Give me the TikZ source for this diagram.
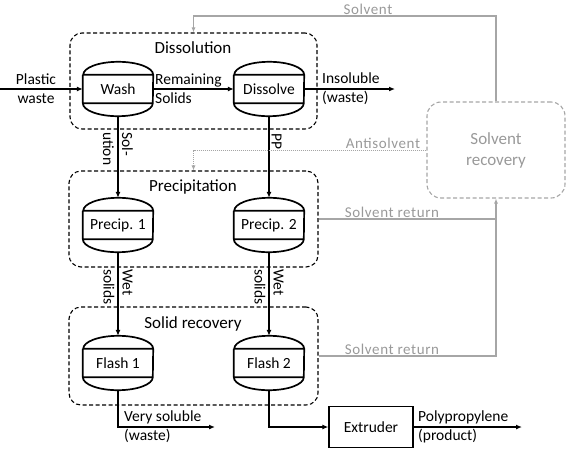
\documentclass[tikz,border=0pt]{standalone}
\usepackage{fontspec}
\setmainfont{Carlito}
\usetikzlibrary{arrows.meta}
\usepackage{xcolor}
\definecolor{recline}{HTML}{A6A6A6}
\definecolor{rectext}{HTML}{999999}

\begin{document}
\begin{tikzpicture}[
    x=1pt, y=1pt,
    stage/.style={
        draw=black,
        line width=1.1pt,
        dash pattern=on 4pt off 2.5pt,
        rounded corners=12pt,
        minimum width=249pt,
        minimum height=96pt,
    },
    heading/.style={font=\fontsize{17}{20}\selectfont},
    txt/.style={font=\fontsize{15.5}{19}\selectfont, align=left, inner sep=1pt},
    gtxt/.style={font=\fontsize{15}{19}\selectfont\addfontfeature{LetterSpace=4}, text=rectext, inner sep=1.5pt},
    vessel/.style={
        minimum width=70pt,
        minimum height=54pt,
        inner sep=0pt,
        font=\fontsize{15.5}{19}\selectfont,
        append after command={\pgfextra{
            \draw[line width=1.7pt]
                ([yshift=-13pt]\tikzlastnode.north west) -- ([yshift=13pt]\tikzlastnode.south west)
                arc[start angle=180, end angle=360, x radius=35pt, y radius=13pt]
                -- ([yshift=-13pt]\tikzlastnode.north east)
                arc[start angle=0, end angle=180, x radius=35pt, y radius=13pt]
                ([yshift=-13pt]\tikzlastnode.north west) -- ([yshift=-13pt]\tikzlastnode.north east)
                ([yshift=13pt]\tikzlastnode.south west) -- ([yshift=13pt]\tikzlastnode.south east);
        }},
    },
    recovery/.style={
        draw=recline,
        line width=1.1pt,
        dash pattern=on 4pt off 2.5pt,
        rounded corners=14pt,
        minimum width=138pt,
        minimum height=96pt,
        align=center,
        text=rectext,
        font=\fontsize{17}{21}\selectfont,
    },
    flow/.style={line width=1.3pt, -{Latex[length=6pt, width=5pt]}},
    ret/.style={draw=recline, line width=1.3pt, -{Latex[length=5pt, width=4pt]}},
]
\useasboundingbox (0,0) rectangle (567,-450);

% Stages
\node[stage, minimum width=247pt] (dissolution) at (193.5,-81) {};
\node[stage] (precipitation) at (193.5,-219) {};
\node[stage, minimum height=98pt] (solidrecovery) at (193.5,-356) {};
\node[heading] (dissolutiontitle) at (193,-48) {Dissolution};
\node[heading] (precipitationtitle) at (193,-187) {Precipitation};
\node[heading] (solidrecoverytitle) at (193,-324) {Solid recovery};

% Vessels
\node[vessel] (wash) at (118,-89) {Wash};
\node[vessel] (dissolve) at (269,-89) {Dissolve};
\node[vessel] (precA) at (118,-225) {Precip. 1};
\node[vessel] (precB) at (269,-225) {Precip. 2};
\node[vessel] (flashA) at (118,-363) {Flash 1};
\node[vessel] (flashB) at (269,-363) {Flash 2};
\node[draw, line width=1.3pt, minimum width=84pt, minimum height=41pt,
      font=\fontsize{15.5}{19}\selectfont] (extruder) at (371,-427) {Extruder};

% Solvent loop
\node[recovery] (recovery) at (496,-150) {Solvent\\recovery};

% Free ends
\coordinate (feed) at (0,-89);
\coordinate (insoluble) at (395,-89);
\coordinate (verysoluble) at (215,-427);
\coordinate (product) at (522,-427);

% Main flow
\draw[flow] (feed) -- (wash.west);
\draw[flow] (wash.east) -- (dissolve.west);
\draw[flow] (dissolve.east) -- (insoluble);
\draw[flow] (wash.south) -- (precA.north);
\draw[flow] (dissolve.south) -- (precB.north);
\draw[flow] (precA.south) -- (flashA.north);
\draw[flow] (precB.south) -- (flashB.north);
\draw[flow] (flashA.south) |- (verysoluble);
\draw[flow] (flashB.south) |- (extruder.west);
\draw[flow] (extruder.east) -- (product);

\node[txt, align=center] (feedlabel) at (36,-89) {Plastic\\waste};
\node[txt, anchor=west] (solidslabel) at (154,-89) {Remaining\\Solids};
\node[txt, anchor=west] (insolublelabel) at (321,-89) {Insoluble\\(waste)};
\node[txt, rotate=-90, anchor=west] (solutionlabel) at (118,-131) {Sol-\\ution};
\node[txt, rotate=-90, anchor=south west, inner sep=2.5pt] (pplabel) at (269,-131) {PP};
\node[txt, rotate=-90, anchor=west] (wetlabelA) at (118,-268) {Wet\\solids};
\node[txt, rotate=-90, anchor=west] (wetlabelB) at (269,-268) {Wet\\solids};
\node[txt, anchor=west] (verysolublelabel) at (123,-427) {Very soluble\\(waste)};
\node[txt, anchor=west] (productlabel) at (417,-427) {Polypropylene\\(product)};

% Solvent streams
\draw[ret] (recovery.north) |- (dissolution.north |- 0,-16) -- (dissolution.north);
\draw[ret, line width=1pt, dash pattern=on 1pt off 1pt] (recovery.west) -| (precipitation.north);
\draw[draw=recline, line width=1.3pt] (precipitation.east) -- (precipitation.east -| recovery.south);
\draw[ret] (solidrecovery.east) -| (recovery.south);

\node[gtxt, anchor=south] (solventlabel) at (368,-16) {Solvent};
\node[gtxt, anchor=south] (antisolventlabel) at (383,-150) {Antisolvent};
\node[gtxt, anchor=south] (returnlabelA) at (392,-219) {Solvent return};
\node[gtxt, anchor=south] (returnlabelB) at (392,-356) {Solvent return};

\end{tikzpicture}
\end{document}
